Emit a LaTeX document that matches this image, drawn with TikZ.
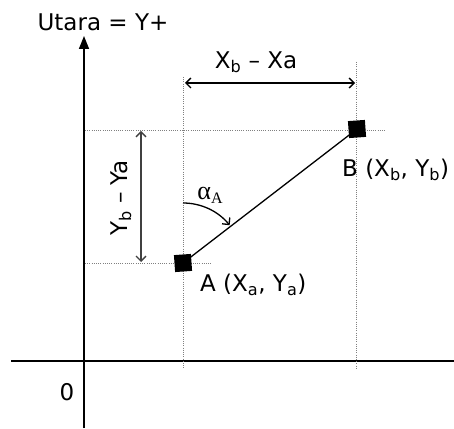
\documentclass[tikz,border=0pt]{standalone}
\usepackage{fontspec}
\setmainfont{DejaVu Sans}
\newfontfamily\serifgr{Liberation Serif}
\usetikzlibrary{arrows.meta}
\begin{document}
\begin{tikzpicture}[x=1pt,y=1pt,
  lbl/.style={font=\fontsize{23}{26}\selectfont, inner sep=0pt},
  axis/.style={line width=1.5pt},
  guide/.style={gray, line width=0.9pt, dash pattern=on 1pt off 1.2pt},
  dim/.style={line width=1.4pt, {Straight Barb[length=5pt,width=10pt]}-{Straight Barb[length=5pt,width=10pt]}},
  pt/.style={fill=black, draw=none, minimum size=17pt, inner sep=0pt, rectangle}]
\useasboundingbox (0,0) rectangle (454,428);
% axes
\coordinate (ybot) at (84,0);
\coordinate (ytop) at (84,392);
\coordinate (xl) at (11,67);
\coordinate (xr) at (454,67);
\draw[axis] (xl) -- (xr);
\draw[axis, -{Triangle[length=13pt,width=10pt]}] (ybot) -- (ytop);
% guides
\coordinate (va1) at (183,351); \coordinate (va2) at (183,59);
\coordinate (vb1) at (356,366); \coordinate (vb2) at (356,59);
\coordinate (hb1) at (85,298);  \coordinate (hb2) at (386,298);
\coordinate (ha1) at (85,165);  \coordinate (ha2) at (212,165);
\draw[guide] (va1) -- (va2);
\draw[guide] (vb1) -- (vb2);
\draw[guide] (hb1) -- (hb2);
\draw[guide] (ha1) -- (ha2);
% points
\node[pt, rotate=4] (A) at (183,165) {};
\node[pt, rotate=4] (B) at (357,299) {};
\draw[line width=1.3pt] (A.center) -- (B.center);
% dimension arrows
\coordinate (dx1) at (185,345); \coordinate (dx2) at (355,345);
\draw[dim] (dx1) -- (dx2);
\coordinate (dy1) at (141,297); \coordinate (dy2) at (141,166);
\draw[dim, black!75] (dy1) -- (dy2);
% angle
\coordinate (arcstart) at (183,225);
\draw[line width=1.3pt, -{Straight Barb[length=5pt,width=10pt]}] (arcstart) arc[start angle=90, end angle=39, radius=60];
% labels
\node[lbl] (utara) at (103,406) {Utara = Y+};
\node[lbl] (zero) at (67,36) {0};
\node[lbl] (dxl) at (256,366) {X\textsubscript{b} – Xa};
\node[lbl, rotate=90] (dyl) at (121,230) {Y\textsubscript{b} – Ya};
\node[lbl, anchor=west] (Bl) at (342,258) {B (X\textsubscript{b}, Y\textsubscript{b})};
\node[lbl, anchor=west] (Al) at (200,143) {A (X\textsubscript{a}, Y\textsubscript{a})};
\node[inner sep=0pt, font=\serifgr\fontsize{26}{28}\selectfont] (alpha) at (210,233) {α\raisebox{-4pt}{\fontsize{16}{18}\selectfont A}};
\end{tikzpicture}
\end{document}
